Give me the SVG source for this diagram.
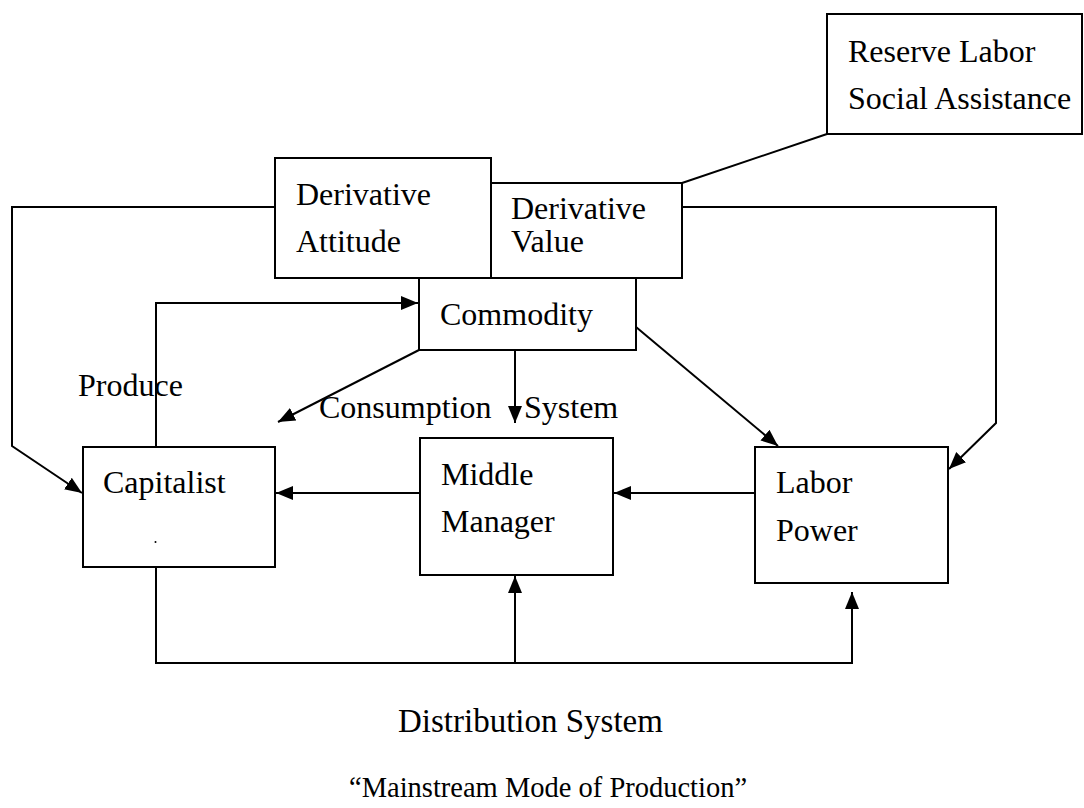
<svg xmlns="http://www.w3.org/2000/svg" width="1084" height="808" viewBox="0 0 1084 808">
<style>
.box{fill:#fff;stroke:#000;stroke-width:2}
.ln{fill:none;stroke:#000;stroke-width:2}
.t{font-family:'Liberation Serif','DejaVu Serif',serif;font-size:32px;fill:#000}
.dist{font-size:33px}
.title{font-size:28.5px}
</style>
<defs>
<marker id="ah" markerUnits="userSpaceOnUse" markerWidth="18" markerHeight="16" refX="17" refY="8" orient="auto">
<path d="M0,1 L17,8 L0,15 z" fill="#000"/>
</marker>
</defs>
<rect width="1084" height="808" fill="#fff"/>
<g id="connectors">
<polyline class="ln" points="275,207 12,207 12,446 82,493" marker-end="url(#ah)"/>
<polyline class="ln" points="682,207 996,207 996,423 949,469" marker-end="url(#ah)"/>
<line class="ln" x1="827" y1="134" x2="682" y2="183"/>
<polyline class="ln" points="156,447 156,303 418,303" marker-end="url(#ah)"/>
<line class="ln" x1="419" y1="350" x2="278" y2="422" marker-end="url(#ah)"/>
<line class="ln" x1="515" y1="350" x2="515" y2="423" marker-end="url(#ah)"/>
<line class="ln" x1="636" y1="327" x2="778" y2="446" marker-end="url(#ah)"/>
<line class="ln" x1="420" y1="493" x2="276" y2="493" marker-end="url(#ah)"/>
<line class="ln" x1="755" y1="493" x2="614" y2="493" marker-end="url(#ah)"/>
<polyline class="ln" points="156,567 156,663 852,663 852,592" marker-end="url(#ah)"/>
<line class="ln" x1="515" y1="663" x2="515" y2="576" marker-end="url(#ah)"/>
</g>
<g id="reserve" class="t" font-family="Liberation Serif, serif">
<rect class="box" x="827" y="14" width="255" height="120"/>
<text x="848" y="62">Reserve Labor</text>
<text x="848" y="109">Social Assistance</text>
</g>
<g id="derivative-attitude" class="t" font-family="Liberation Serif, serif">
<rect class="box" x="275" y="158" width="216" height="120"/>
<text x="296" y="205">Derivative</text>
<text x="296" y="252">Attitude</text>
</g>
<g id="derivative-value" class="t" font-family="Liberation Serif, serif">
<rect class="box" x="491" y="183" width="191" height="95"/>
<text x="511" y="219">Derivative</text>
<text x="511" y="252">Value</text>
</g>
<g id="commodity" class="t" font-family="Liberation Serif, serif">
<rect class="box" x="419" y="278" width="217" height="72"/>
<text x="440" y="325">Commodity</text>
</g>
<g id="capitalist" class="t" font-family="Liberation Serif, serif">
<rect class="box" x="83" y="447" width="192" height="120"/>
<text x="103" y="493">Capitalist</text>
<circle cx="155.5" cy="542" r="1" fill="#000"/>
</g>
<g id="middle-manager" class="t" font-family="Liberation Serif, serif">
<rect class="box" x="420" y="438" width="193" height="137"/>
<text x="441" y="485">Middle</text>
<text x="441" y="532">Manager</text>
</g>
<g id="labor-power" class="t" font-family="Liberation Serif, serif">
<rect class="box" x="755" y="447" width="193" height="136"/>
<text x="776" y="493">Labor</text>
<text x="776" y="541">Power</text>
</g>
<g id="labels" class="t" font-family="Liberation Serif, serif">
<text x="78" y="396">Produce</text>
<text x="319" y="418">Consumption</text>
<text x="524" y="418">System</text>
<text class="dist" x="398" y="732">Distribution System</text>
<text class="title" x="349" y="797">“Mainstream Mode of Production”</text>
</g>
</svg>
